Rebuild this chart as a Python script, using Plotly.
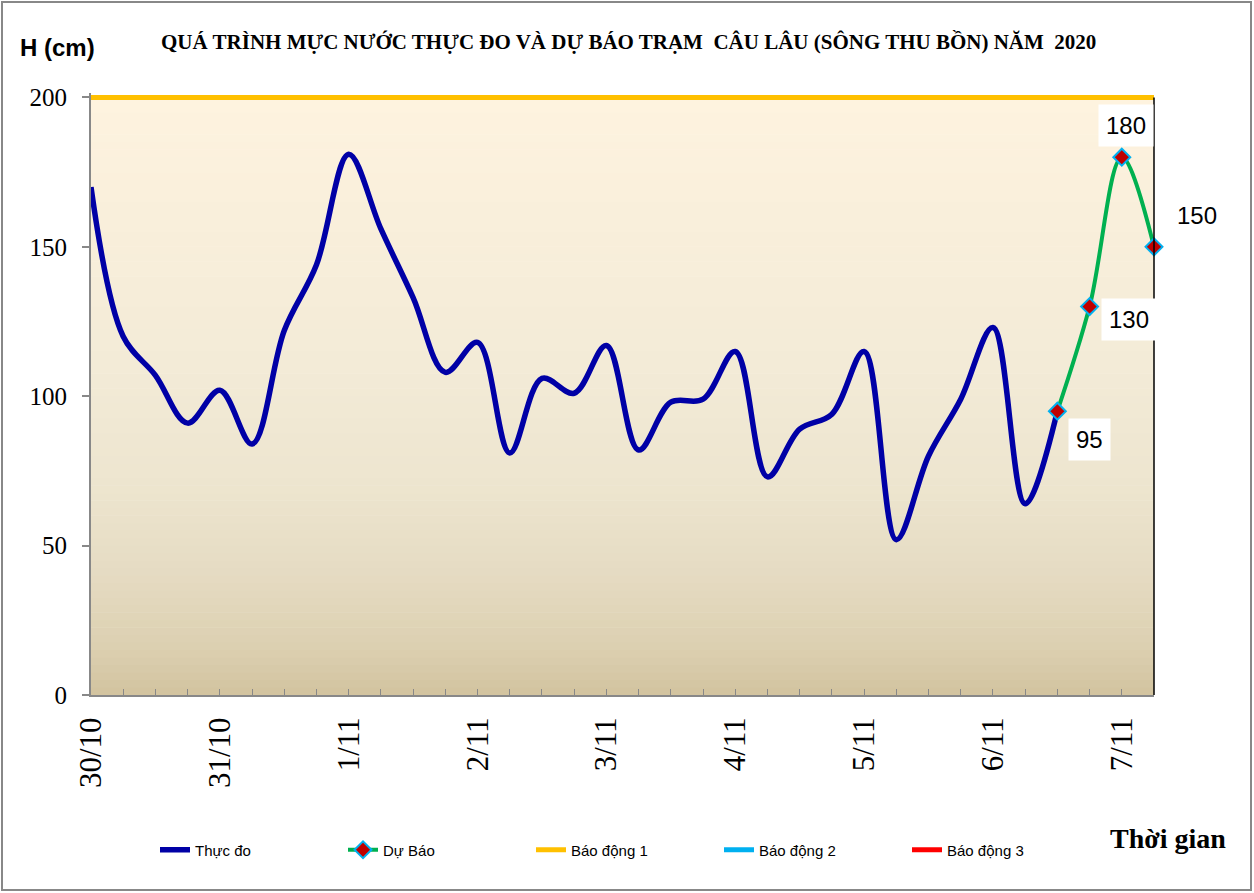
import plotly.graph_objects as go

# ---------------- data ----------------
day_labels = ["30/10", "31/10", "1/11", "2/11", "3/11", "4/11", "5/11", "6/11", "7/11"]
steps_per_day = 4
n_points = 34

observed = [170, 120, 107, 91, 102, 84, 122, 144, 181, 156, 133, 108, 118, 81,
            106, 101, 117, 82, 98, 99, 115, 73, 89, 94, 115, 52, 80, 99, 123, 64, 95]
forecast_start = 30
forecast = [95, 130, 180, 150]

alarm1 = 200
alarm2 = 300
alarm3 = 400

x_all = list(range(n_points))
x_obs = x_all[:len(observed)]
x_fc = x_all[forecast_start:forecast_start + len(forecast)]
tick_idx = [i * steps_per_day for i in range(len(day_labels))]

# label offsets for forecast values (pixels)
label_shift = [(32, -28), (39, -13), (4, 32), (43, 31)]

# ---------------- layout geometry ----------------
W, H = 1254, 893
L, R, T, B = 91, 100, 93, 198
y_top = 201.5

fig = go.Figure()

fig.add_trace(go.Scatter(x=x_obs, y=observed, name="Thực đo", mode="lines",
                         line=dict(color="#0000A6", width=5.5, shape="spline", smoothing=1.0)))
fig.add_trace(go.Scatter(x=x_fc, y=forecast, name="Dự Báo", mode="lines+markers",
                         line=dict(color="#00B050", width=4, shape="spline", smoothing=1.0),
                         marker=dict(symbol="diamond", size=13, color="#C00000",
                                     line=dict(color="#00B0F0", width=2)),
                         cliponaxis=False))
fig.add_trace(go.Scatter(x=[x_all[0], x_all[-1]], y=[alarm1, alarm1], name="Báo động 1",
                         mode="lines", line=dict(color="#FFC000", width=5)))
fig.add_trace(go.Scatter(x=[x_all[0], x_all[-1]], y=[alarm2, alarm2], name="Báo động 2",
                         mode="lines", line=dict(color="#00B0F0", width=5)))
fig.add_trace(go.Scatter(x=[x_all[0], x_all[-1]], y=[alarm3, alarm3], name="Báo động 3",
                         mode="lines", line=dict(color="#FF0000", width=5)))

# ---------------- background gradient ----------------
def hex2rgb(h):
    h = h.lstrip("#")
    return [int(h[i:i + 2], 16) for i in (0, 2, 4)]

stops = [(0.0, "#D2C39F"), (0.08, "#DCD0B1"), (0.2, "#E5DBC2"), (0.35, "#EDE5CF"),
         (0.55, "#F3EBD7"), (0.8, "#F9EFDB"), (1.0, "#FEF3DF")]

def color_at(f):
    for (f0, c0), (f1, c1) in zip(stops[:-1], stops[1:]):
        if f0 <= f <= f1:
            t = (f - f0) / (f1 - f0)
            a, b = hex2rgb(c0), hex2rgb(c1)
            return "rgb(%d,%d,%d)" % tuple(round(a[k] + (b[k] - a[k]) * t) for k in range(3))
    return stops[-1][1]

shapes = []
nb = 80
top_frac = alarm1 / y_top
for i in range(nb):
    f0 = i / nb
    f1 = (i + 1) / nb
    shapes.append(dict(type="rect", xref="x domain", yref="y domain",
                       x0=0, x1=1, y0=f0 * top_frac, y1=f1 * top_frac + 0.001,
                       fillcolor=color_at((f0 + f1) / 2), line=dict(width=0), layer="below"))

# right border of plot area
shapes.append(dict(type="line", xref="x domain", yref="y domain", x0=1, x1=1,
                   y0=0, y1=top_frac, line=dict(color="#000000", width=1.5), layer="above"))

# outer frame
pw = W - L - R
ph = H - T - B
def px2paper_x(px):
    return (px - L) / pw
def px2paper_y(py):
    return (H - B - py) / ph
shapes.append(dict(type="rect", xref="paper", yref="paper",
                   x0=px2paper_x(2), x1=px2paper_x(1251), y0=px2paper_y(890), y1=px2paper_y(2),
                   line=dict(color="#888888", width=2), fillcolor="rgba(0,0,0,0)"))

annotations = []
for xv, yv, (dx, dy) in zip(x_fc, forecast, label_shift):
    annotations.append(dict(x=xv, y=yv, xref="x", yref="y", text=str(yv), showarrow=False,
                            xshift=dx, yshift=dy, bgcolor="white", borderpad=7,
                            font=dict(family="Liberation Sans, Arial", size=24, color="black")))

annotations.append(dict(text="<b>QUÁ TRÌNH MỰC NƯỚC THỰC ĐO VÀ DỰ BÁO TRẠM  CÂU LÂU (SÔNG THU BỒN) NĂM  2020</b>",
                        xref="paper", yref="paper", x=px2paper_x(628), y=px2paper_y(42),
                        xanchor="center", yanchor="middle", showarrow=False,
                        font=dict(family="Liberation Serif, Times New Roman", size=21, color="black")))
annotations.append(dict(text="<b>H (cm)</b>", xref="paper", yref="paper",
                        x=px2paper_x(57), y=px2paper_y(47), xanchor="center", yanchor="middle",
                        showarrow=False,
                        font=dict(family="Liberation Sans, Arial", size=24, color="black")))
annotations.append(dict(text="<b>Thời gian</b>", xref="paper", yref="paper",
                        x=px2paper_x(1168), y=px2paper_y(838), xanchor="center", yanchor="middle",
                        showarrow=False,
                        font=dict(family="Liberation Serif, Times New Roman", size=28, color="black")))

fig.update_layout(
    width=W, height=H,
    margin=dict(l=L, r=R, t=T, b=B, pad=0),
    paper_bgcolor="white", plot_bgcolor="rgba(0,0,0,0)",
    shapes=shapes, annotations=annotations,
    showlegend=True,
    legend=dict(orientation="h", x=px2paper_x(155), y=px2paper_y(850), xanchor="left",
                yanchor="middle", entrywidth=143, entrywidthmode="pixels",
                font=dict(family="Liberation Sans, Arial", size=15, color="black"),
                bgcolor="rgba(0,0,0,0)"),
    xaxis=dict(range=[x_all[0], x_all[-1]], tickmode="array", tickvals=tick_idx, ticktext=day_labels,
               tickangle=-90, ticks="inside", ticklen=6, tickcolor="#888888", tickwidth=1,
               minor=dict(dtick=1, tick0=0, ticks="inside", ticklen=6, tickcolor="#888888", tickwidth=1),
               showline=True, linecolor="#888888", linewidth=2, showgrid=False, zeroline=False,
               ticklabelstandoff=8,
               tickfont=dict(family="Liberation Serif, Times New Roman", size=31, color="black")),
    yaxis=dict(range=[0, y_top], tickmode="array", tickvals=[0, 50, 100, 150, 200],
               ticks="outside", ticklen=7, tickcolor="#888888", tickwidth=1.5,
               showline=True, linecolor="#888888", linewidth=2, showgrid=False, zeroline=False,
               ticklabelstandoff=10,
               tickfont=dict(family="Liberation Serif, Times New Roman", size=25, color="black")),
)

fig.write_html("out.html", config={"displayModeBar": False},
               post_script="document.body.style.margin='0px';")
